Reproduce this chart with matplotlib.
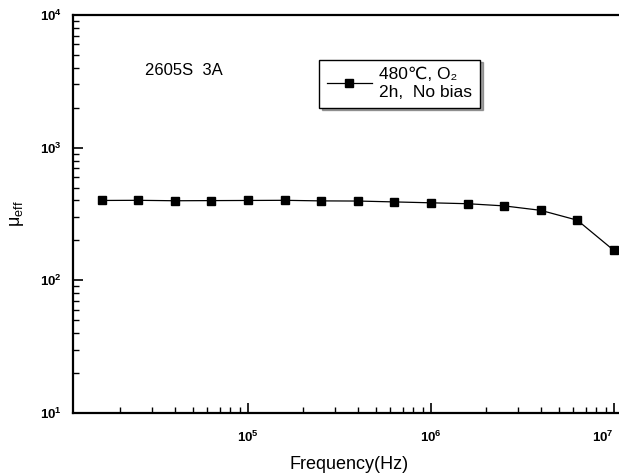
import numpy as np
import matplotlib.pyplot as plt
from matplotlib.ticker import LogLocator, NullFormatter

plt.rcParams['font.family'] = ['Liberation Sans', 'DejaVu Sans']

# data
freq_exp = [4.2, 4.4, 4.6, 4.8, 5.0, 5.2, 5.4, 5.6, 5.8, 6.0, 6.2, 6.4, 6.6, 6.8, 7.0]
mu_eff = [400, 401, 398, 399, 400, 401, 397, 396, 390, 384, 378, 364, 337, 284, 168]
freq = [10 ** e for e in freq_exp]

sample_label = '2605S  3A'
legend_label = '480\u2103, O\u2082\n2h,  No bias'

fig = plt.figure(figsize=(6.19, 4.74), dpi=100)
W, H = 619, 474
left, right, bottom, top = 73, 625, 413, 15
ax = fig.add_axes([left / W, 1 - bottom / H, (right - left) / W, (bottom - top) / H])

ax.plot(freq, mu_eff, color='black', lw=0.9, marker='s', ms=5.5,
        label=legend_label)
ax.set_xscale('log')
ax.set_yscale('log')
ax.set_xlim(1.104e4, 1.15e7)
ax.set_ylim(10, 1e4)

ax.spines['right'].set_visible(False)
for s in ['left', 'bottom', 'top']:
    ax.spines[s].set_linewidth(1.6)

ax.xaxis.set_major_locator(LogLocator(base=10, numticks=10))
ax.xaxis.set_minor_locator(LogLocator(base=10, subs=np.arange(2, 10), numticks=20))
ax.yaxis.set_minor_locator(LogLocator(base=10, subs=np.arange(2, 10), numticks=20))
ax.xaxis.set_minor_formatter(NullFormatter())
ax.yaxis.set_minor_formatter(NullFormatter())
ax.tick_params(which='major', direction='in', length=7, width=1.2,
               labelsize=9.5, top=False, right=False)
ax.tick_params(axis='x', which='major', pad=12)
ax.tick_params(axis='y', which='major', pad=8)
ax.tick_params(which='minor', direction='in', length=4, width=1.0,
               top=False, right=False)
fig.canvas.draw()
for lab in ax.get_xticklabels() + ax.get_yticklabels():
    lab.set_fontweight('bold')
# last x label sits on the right edge, keep it inside the picture
xl = [t for t in ax.get_xticklabels() if t.get_position()[0] >= 9.9e6]
for t in xl:
    t.set_horizontalalignment('right')
    t.set_x(1.12e7)

ax.set_xlabel('Frequency(Hz)', fontsize=13, labelpad=8)
ax.set_ylabel('$\\mathregular{\\mu_{eff}}$', fontsize=13, labelpad=10)

ax.text(0.13, 0.86, sample_label, transform=ax.transAxes, fontsize=12,
        va='center', ha='left')

leg = ax.legend(loc='upper left', bbox_to_anchor=(0.43, 0.91), fontsize=12.5,
                frameon=True, fancybox=False, shadow=True, handlelength=2.6,
                handletextpad=0.4, borderpad=0.45, labelspacing=0.3)
leg.get_frame().set_edgecolor('black')
leg.get_frame().set_linewidth(1.0)

fig.savefig('out.png', dpi=100)
